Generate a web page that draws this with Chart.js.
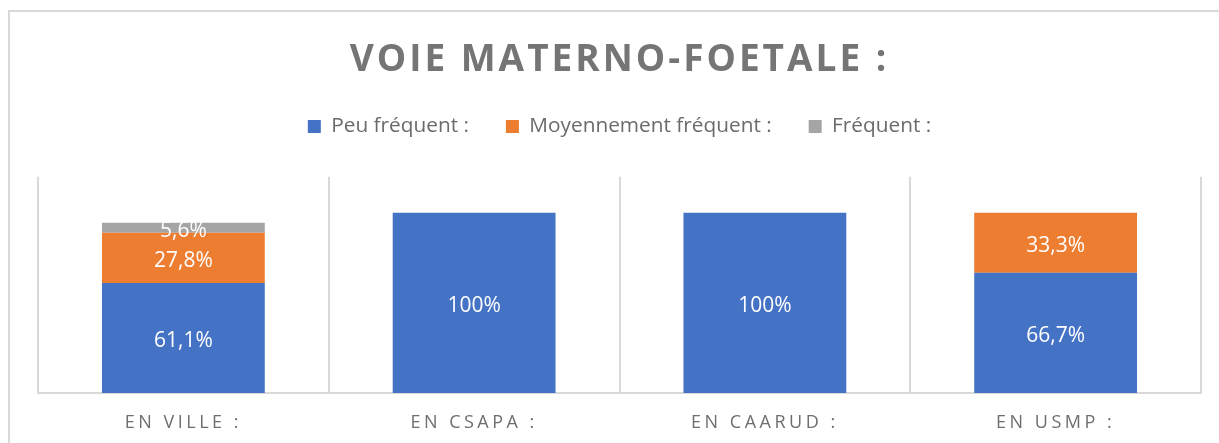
<!DOCTYPE html>
<html>
<head>
<meta charset="utf-8">
<script src="https://cdn.jsdelivr.net/npm/chart.js@4"></script>
<style>
  html, body { margin: 0; padding: 0; background: #fff; overflow: hidden; }
  #frame { position: absolute; left: 8px; top: 10px; width: 1400px; height: 600px;
           border-left: 2px solid #d9d9d9; border-top: 2px solid #d9d9d9; }
  #wrap { position: absolute; left: 0; top: 0; width: 1219px; height: 443px; }
</style>
</head>
<body>
<div id="frame"></div>
<div id="wrap"><canvas id="chart" width="1219" height="443"></canvas></div>
<script>
const categories = ["EN VILLE :", "EN CSAPA :", "EN CAARUD :", "EN USMP :"];
const peuFrequent = [61.1, 100, 100, 66.7];
const moyennementFrequent = [27.8, 0, 0, 33.3];
const frequent = [5.6, 0, 0, 0];
const seriesNames = ["Peu fréquent :", "Moyennement fréquent :", "Fréquent :"];

const FONT = "'Open Sans', sans-serif";

// draws the white percentages inside each bar segment
const barLabels = {
  id: "barLabels",
  afterDatasetsDraw(chart) {
    const ctx = chart.ctx;
    ctx.save();
    ctx.font = "21px " + FONT;
    ctx.fillStyle = "#ffffff";
    ctx.textAlign = "center";
    ctx.textBaseline = "middle";
    chart.data.datasets.forEach((ds, i) => {
      chart.getDatasetMeta(i).data.forEach((bar, j) => {
        const v = ds.data[j];
        if (!v) return;
        const txt = v === 100 ? "100%" : v.toFixed(1).replace(".", ",") + "%";
        ctx.fillText(txt, bar.x, (bar.y + bar.base) / 2 + 3);
      });
    });
    ctx.restore();
  }
};

// letter spacing for the title and the category labels, extra room under the legend
const tweaks = {
  id: "tweaks",
  beforeLayout(chart) {
    const lg = chart.legend;
    if (lg && !lg._tweaked) {
      const fit = lg.fit.bind(lg);
      lg.fit = () => { fit(); lg.height += 30; };
      lg._tweaked = true;
    }
  },
  afterLayout(chart) {
    const ctx = chart.ctx;
    const t = chart.titleBlock;
    if (t && !t._spaced) {
      const draw = t.draw.bind(t);
      t.draw = (...a) => { ctx.save(); ctx.letterSpacing = "3px"; draw(...a); ctx.restore(); };
      t._spaced = true;
    }
    const x = chart.scales.x;
    if (x && !x._spaced) {
      const drawLabels = x.drawLabels.bind(x);
      x.drawLabels = (...a) => { ctx.save(); ctx.letterSpacing = "3.5px"; drawLabels(...a); ctx.restore(); };
      x._spaced = true;
    }
  }
};

new Chart(document.getElementById("chart"), {
  type: "bar",
  data: {
    labels: categories,
    datasets: [
      { label: seriesNames[0], data: peuFrequent, backgroundColor: "#4472c4" },
      { label: seriesNames[1], data: moyennementFrequent, backgroundColor: "#ed7d31" },
      { label: seriesNames[2], data: frequent, backgroundColor: "#a5a5a5" }
    ]
  },
  options: {
    responsive: false,
    animation: false,
    layout: { padding: { left: 38, right: 18, top: 0, bottom: 0 } },
    datasets: { bar: { barPercentage: 0.56, categoryPercentage: 1 } },
    plugins: {
      title: {
        display: true,
        text: "VOIE MATERNO-FOETALE :",
        color: "#757575",
        font: { family: FONT, size: 37, weight: "bold", lineHeight: 1 },
        padding: { top: 42, bottom: 0 }
      },
      legend: {
        labels: {
          boxWidth: 13,
          boxHeight: 13,
          padding: 37,
          color: "#6b6b6b",
          font: { family: FONT, size: 20.8 }
        }
      },
      tooltip: { enabled: false }
    },
    scales: {
      x: {
        stacked: true,
        grid: { offset: true, color: "#d9d9d9", lineWidth: 2, drawTicks: false },
        border: { color: "#d9d9d9", width: 2 },
        ticks: { color: "#6e6e6e", padding: 19, font: { family: FONT, size: 18 } },
        afterFit(scale) { scale.height = 50; }
      },
      y: {
        stacked: true,
        display: false,
        min: 0,
        max: 120
      }
    }
  },
  plugins: [barLabels, tweaks]
});
</script>
</body>
</html>
